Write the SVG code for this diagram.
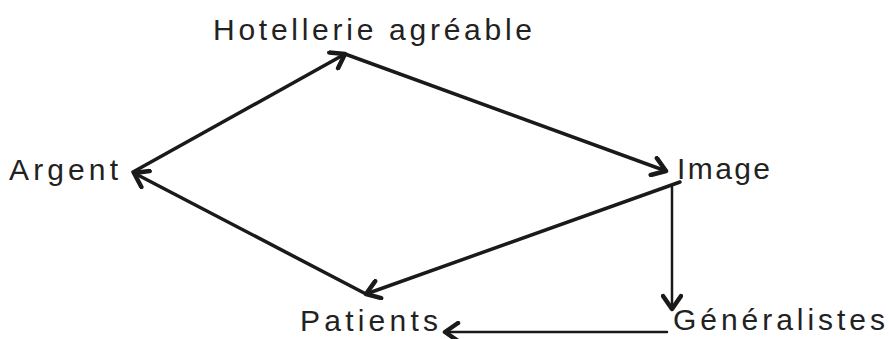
<svg xmlns="http://www.w3.org/2000/svg" width="889" height="339" viewBox="0 0 889 339">
<style>
.t{font-family:"Liberation Sans",Arial,sans-serif;font-size:30px;fill:#222;}
.c{stroke:#1a1a1a;stroke-width:3.5;fill:none;stroke-linecap:round;}
.thin{stroke-width:2.5;}
</style>
<defs>
<marker id="ah" viewBox="0 0 22 22" refX="17" refY="11" markerWidth="22" markerHeight="22" markerUnits="userSpaceOnUse" orient="auto">
<path d="M4,2 L17,11 L4,20" fill="none" stroke="#1a1a1a" stroke-width="4.5" stroke-linecap="round" stroke-linejoin="round"/>
</marker>
</defs>
<rect width="889" height="339" fill="#fff"/>
<g id="hotellerie"><text class="t" x="213" y="40" textLength="319" lengthAdjust="spacing">Hotellerie agréable</text></g>
<g id="argent"><text class="t" x="9" y="180" textLength="109" lengthAdjust="spacing">Argent</text></g>
<g id="image"><text class="t" x="677" y="179" textLength="93" lengthAdjust="spacing">Image</text></g>
<g id="patients"><text class="t" x="300" y="331" textLength="138" lengthAdjust="spacing">Patients</text></g>
<g id="generalistes"><text class="t" x="673" y="330" textLength="212" lengthAdjust="spacing">Généralistes</text></g>
<g id="connectors">
<line class="c" x1="133" y1="172" x2="345" y2="54" marker-end="url(#ah)"/>
<line class="c" x1="345" y1="54" x2="666" y2="171" marker-end="url(#ah)"/>
<line class="c" x1="680" y1="182" x2="366" y2="294" marker-end="url(#ah)"/>
<line class="c" x1="366" y1="294" x2="134" y2="173" marker-end="url(#ah)"/>
<line class="c thin" x1="672" y1="187" x2="672" y2="309" marker-end="url(#ah)"/>
<line class="c thin" x1="667" y1="332" x2="445" y2="332" marker-end="url(#ah)"/>
</g>
</svg>
